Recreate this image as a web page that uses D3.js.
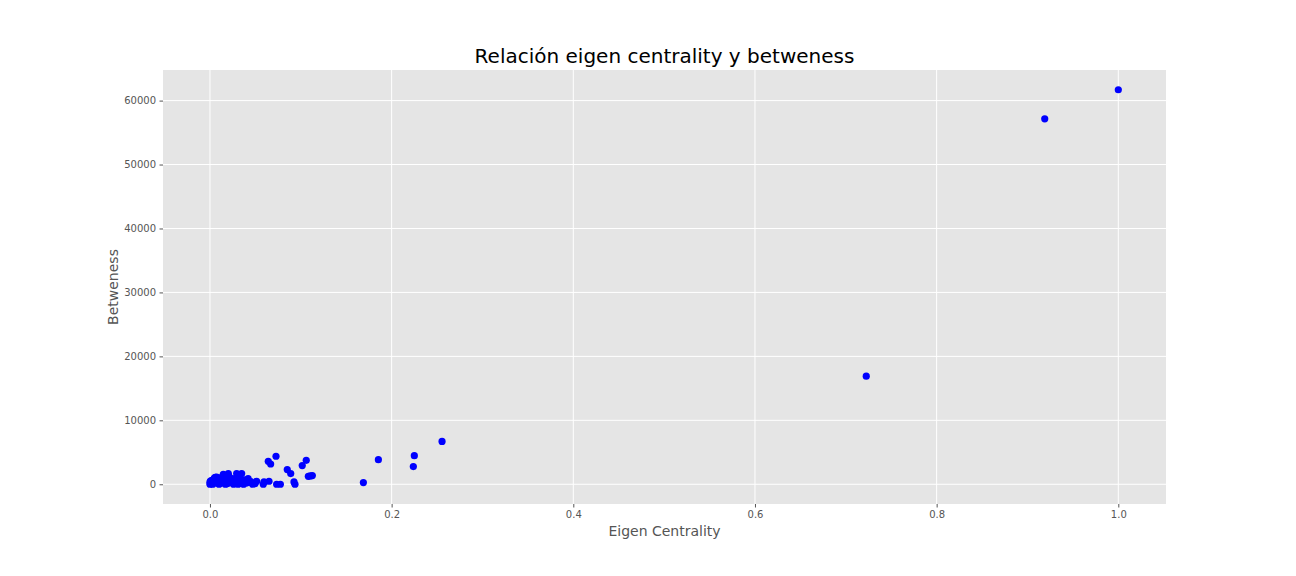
<!DOCTYPE html>
<html><head><meta charset="utf-8">
<script src="https://cdn.jsdelivr.net/npm/d3@7"></script>
<style>body{margin:0;background:#fff}svg{display:block}</style>
</head><body>
<script>
const eigen = [1.0,0.919,0.7225,0.2555,0.1689,0.1854,0.225,0.2239,
0.0727,0.0642,0.0668,0.0851,0.0889,0.106,0.1016,0.1083,0.1105,0.1127,0.0925,0.0936,0.0734,0.0775,0.065,0.0595,0.0587,0.0514,0.0495,
0.0349,0.0294,0.0202,0.0147,0.0073,0.005,0.042,0.038,0.033,0.045,0.04,0.036,0.031,0.027,0.024,0.021,0.018,0.016,0.013,0.011,0.009,0.007,0.005,0.003,0.002,0.001,0.0,0.0,0.0005,0.0015,0.004,0.006,0.008,0.01,0.012,0.015,0.019,0.022,0.025,0.028,0.03,0.034,0.037,0.043,0.047,0.026,0.023,0.017,0.014,0.009,0.003,0.001,0.032,0.02,0.011];
const betweness = [61700,57150,16900,6700,270,3850,4480,2770,
4380,3590,3170,2300,1670,3750,2920,1250,1300,1360,360,0,0,0,470,360,0,470,100,
1670,1670,1670,1560,1140,1000,890,700,1300,400,200,100,0,600,900,1200,800,300,500,1000,700,400,900,300,600,100,0,300,500,200,700,1100,200,0,800,1300,100,500,200,900,1200,500,0,300,0,0,400,0,200,800,0,150,1100,1400,200];
const xTicks = [0.0,0.2,0.4,0.6,0.8,1.0];
const yTicks = [0,10000,20000,30000,40000,50000,60000];

const W=1296,H=576;
const m={l:163,r:1166,t:70,b:504};
const svg=d3.select("body").append("svg").attr("width",W).attr("height",H);
const x=d3.scaleLinear().domain([-0.0517,1.0525]).range([m.l,m.r]);
const y=d3.scaleLinear().domain([-3085,64785]).range([m.b,m.t]);
svg.append("rect").attr("x",m.l).attr("y",m.t).attr("width",m.r-m.l).attr("height",m.b-m.t).attr("fill","#e5e5e5");
const g=svg.append("g");
g.selectAll(".gx").data(xTicks).enter().append("line").attr("x1",d=>x(d)).attr("x2",d=>x(d)).attr("y1",m.t).attr("y2",m.b).attr("stroke","#fff").attr("stroke-width",1);
g.selectAll(".gy").data(yTicks).enter().append("line").attr("y1",d=>y(d)).attr("y2",d=>y(d)).attr("x1",m.l).attr("x2",m.r).attr("stroke","#fff").attr("stroke-width",1);
const xa=svg.append("g").attr("transform",`translate(0,${m.b})`).call(d3.axisBottom(x).tickValues(xTicks).tickFormat(d3.format(".1f")).tickSize(3.5).tickPadding(3.5));
const ya=svg.append("g").attr("transform",`translate(${m.l},0)`).call(d3.axisLeft(y).tickValues(yTicks).tickFormat(d=>String(d)).tickSize(3.5).tickPadding(3.5));
[xa,ya].forEach(a=>{a.select(".domain").remove();a.selectAll("line").attr("stroke","#555");a.selectAll("text").attr("fill","#555").style("font-family","DejaVu Sans").style("font-size","10px");});
svg.append("g").selectAll("circle").data(eigen.map((e,i)=>[e,betweness[i]])).enter().append("circle")
 .attr("cx",d=>x(d[0])).attr("cy",d=>y(d[1])).attr("r",3.6).attr("fill","#0000ff");
svg.append("text").attr("x",(m.l+m.r)/2).attr("y",63).attr("text-anchor","middle").style("font-family","DejaVu Sans").style("font-size","20px").attr("fill","#000").text("Relación eigen centrality y betweness");
svg.append("text").attr("x",(m.l+m.r)/2).attr("y",536).attr("text-anchor","middle").style("font-family","DejaVu Sans").style("font-size","14px").attr("fill","#555").text("Eigen Centrality");
svg.append("text").attr("transform",`translate(118,${(m.t+m.b)/2}) rotate(-90)`).attr("text-anchor","middle").style("font-family","DejaVu Sans").style("font-size","14px").attr("fill","#555").text("Betweness");
</script>
</body></html>
